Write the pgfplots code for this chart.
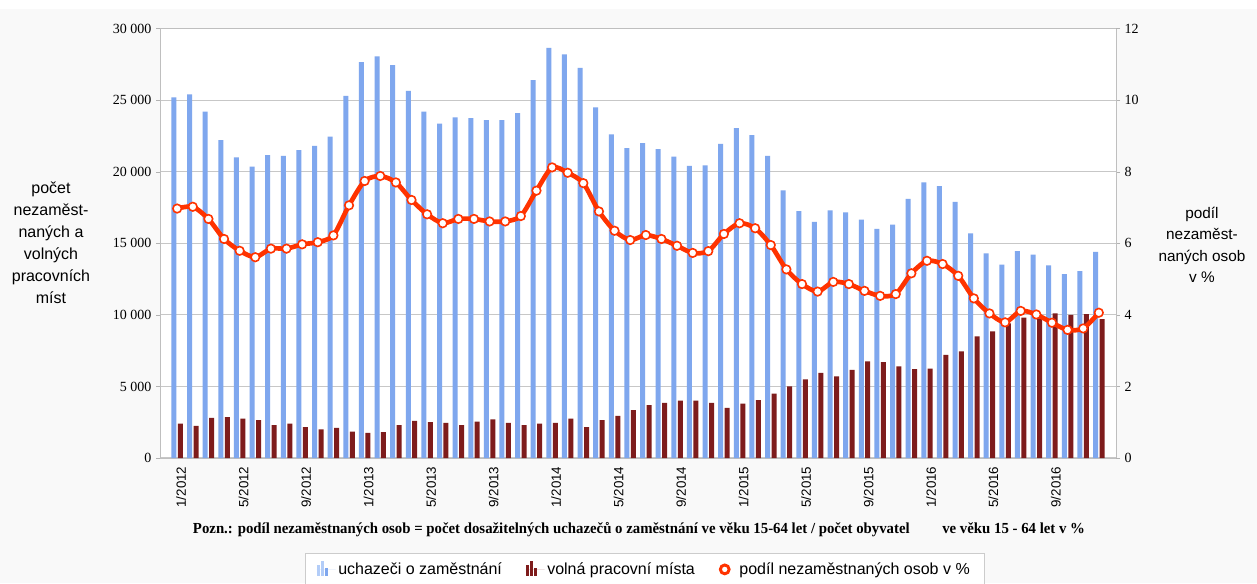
\documentclass[border=0pt]{standalone}
\usepackage{fontspec}
\usepackage{pgfplots}
\usepackage{pgfplotstable}
\pgfplotsset{compat=1.18}
\setmainfont{Liberation Sans}
\newfontfamily\serifnum{Liberation Serif}

\definecolor{bgcol}{HTML}{F9F9F9}
\definecolor{ubar}{HTML}{7FA7EE}
\definecolor{ubarl}{HTML}{B3CDF8}
\definecolor{vbar}{HTML}{7E1C1C}
\definecolor{podil}{HTML}{FF3300}

% i = month index from 1/2012, u = uchazeci, v = volna mista, p = podil v %
\pgfplotstableread{
i u v p
0 25200 2400 6.97
1 25400 2250 7.02
2 24200 2800 6.68
3 22200 2850 6.12
4 21000 2750 5.79
5 20350 2650 5.61
6 21150 2300 5.85
7 21100 2400 5.85
8 21500 2150 5.97
9 21800 2000 6.03
10 22450 2100 6.22
11 25300 1850 7.06
12 27650 1750 7.74
13 28050 1800 7.88
14 27450 2300 7.70
15 25650 2600 7.21
16 24200 2500 6.81
17 23350 2450 6.56
18 23800 2300 6.68
19 23750 2550 6.68
20 23600 2700 6.61
21 23600 2450 6.61
22 24100 2300 6.76
23 26400 2400 7.47
24 28650 2450 8.12
25 28200 2750 7.97
26 27250 2150 7.68
27 24500 2650 6.89
28 22600 2950 6.35
29 21650 3350 6.09
30 22000 3700 6.23
31 21580 3850 6.12
32 21050 4000 5.93
33 20400 4000 5.73
34 20450 3850 5.78
35 21950 3500 6.26
36 23050 3800 6.56
37 22550 4050 6.42
38 21100 4500 5.95
39 18700 5000 5.27
40 17250 5500 4.86
41 16500 5950 4.65
42 17300 5700 4.92
43 17150 6150 4.86
44 16650 6750 4.67
45 16000 6700 4.53
46 16300 6400 4.58
47 18100 6200 5.16
48 19250 6250 5.51
49 19000 7200 5.42
50 17900 7450 5.09
51 15700 8500 4.46
52 14300 8850 4.04
53 13500 9400 3.79
54 14450 9800 4.11
55 14200 9750 4.01
56 13450 10100 3.78
57 12850 10000 3.58
58 13050 10050 3.62
59 14400 9700 4.06
}\data

\begin{document}
\begin{tikzpicture}
\path[use as bounding box] (0,0) rectangle (942.75pt,437.25pt);
\fill[bgcol] (0,0) rectangle (942.75pt,430.5pt);

\begin{axis}[
  at={(120pt,93.75pt)}, anchor=south west,
  width=717pt, height=322.1pt, scale only axis,
  xmin=-1.1, xmax=60.1, ymin=0, ymax=30000,
  scaled y ticks=false,
  axis background/.style={fill=white},
  axis line style={draw=black!25},
  ytick={0,5000,10000,15000,20000,25000,30000},
  yticklabels={0,5 000,10 000,15 000,20 000,25 000,30 000},
  yticklabel style={font=\serifnum\fontsize{10.5}{12}\selectfont},
  ytick style={draw=black!30},
  tick align=outside, major tick length=3pt,
  ymajorgrids, grid style={draw=black!22, line width=0.8pt},
  xtick={0,4,...,56},
  xticklabels={1/2012,5/2012,9/2012,1/2013,5/2013,9/2013,1/2014,5/2014,9/2014,1/2015,5/2015,9/2015,1/2016,5/2016,9/2016},
  xticklabel style={rotate=90, anchor=east, font=\fontsize{10}{12}\selectfont, yshift=-3pt},
  xtick style={draw=none},
  axis y line*=left,
  ybar=1.1pt, bar width=3.75pt,
  legend style={at={(0.507,-0.221)}, anchor=north, draw=black!20, fill=white,
    inner ysep=5pt, inner xsep=9pt,
    legend columns=3, font=\fontsize{12}{14}\selectfont,
    /tikz/every even column/.append style={column sep=16pt}},
]
\addplot[draw=none, fill=ubar,
  legend image code/.code={
    \path[draw=none] (0pt,0pt) -- (14pt,0pt);
    \fill[ubarl] (0pt,-5pt) rectangle (2.2pt,3pt);
    \fill[ubarl] (3.2pt,-5pt) rectangle (5.4pt,6pt);
    \fill[ubar] (6.4pt,-5pt) rectangle (8.6pt,1pt);}]
  table[x=i, y=u] {\data};
\addplot[draw=none, fill=vbar,
  legend image code/.code={
    \path[draw=none] (0pt,0pt) -- (14pt,0pt);
    \fill[vbar] (0pt,-5pt) rectangle (2.2pt,3pt);
    \fill[vbar] (3.2pt,-5pt) rectangle (5.4pt,6pt);
    \fill[vbar] (6.4pt,-5pt) rectangle (8.6pt,1pt);}]
  table[x=i, y=v] {\data};
\addlegendimage{legend image code/.code={
    \path[draw=none] (0pt,0pt) -- (13pt,0pt);
    \draw[podil, fill=white, line width=2.2pt] (4pt,0pt) circle (3.3pt);}}
\legend{uchazeči o zaměstnání, volná pracovní místa, podíl nezaměstnaných osob v \%}
\end{axis}

\begin{axis}[
  at={(120pt,93.75pt)}, anchor=south west,
  width=717pt, height=322.1pt, scale only axis,
  xmin=-1.1, xmax=60.1, ymin=0, ymax=12,
  axis y line*=right, axis x line=none,
  axis line style={draw=black!25},
  ytick={0,2,...,12},
  yticklabels={0,2,4,6,8,10,12},
  yticklabel style={font=\serifnum\fontsize{10.5}{12}\selectfont},
  ytick style={draw=black!30},
  tick align=outside, major tick length=3pt,
]
\addplot[podil, line width=3.5pt, smooth, tension=0.45,
  mark=*, mark size=3.2pt, mark options={draw=podil, fill=white, line width=1.2pt}]
  table[x=i, y=p] {\data};
\end{axis}

\node[align=center, font=\fontsize{12}{16.5}\selectfont] at (38.25pt,255pt)
  {počet\\nezaměst-\\naných a\\volných\\pracovních\\míst};
\node[align=center, font=\fontsize{11.5}{16}\selectfont] at (901.5pt,253.5pt)
  {podíl\\nezaměst-\\naných osob\\v \%};
\node at (479.25pt,39.75pt) {\resizebox{669pt}{\height}{\serifnum\bfseries\fontsize{11.5}{13}\selectfont
  Pozn.: podíl nezaměstnaných osob = počet dosažitelných uchazečů o zaměstnání ve věku 15-64 let / počet obyvatel\hspace{2.2em}ve věku 15 - 64 let v \%}};
\end{tikzpicture}
\end{document}
